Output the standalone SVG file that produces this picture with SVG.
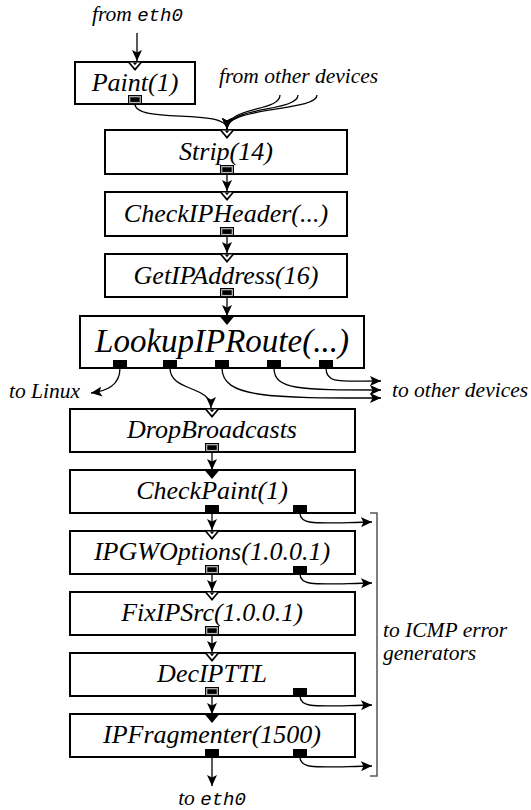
<svg xmlns="http://www.w3.org/2000/svg" xmlns:xlink="http://www.w3.org/1999/xlink" width="531" height="810" viewBox="0 0 531 810">
<style>
.box{fill:#fff;stroke:#000;stroke-width:2}
.lbl{font-family:"Liberation Serif",serif;font-style:italic;font-size:26px;fill:#000;text-anchor:middle}
.big{font-size:33px}
.note{font-family:"Liberation Serif",serif;font-style:italic;font-size:21.5px;fill:#000}
.mono{font-family:"Liberation Mono",monospace;font-style:italic;font-size:19px}
.conn{fill:none;stroke:#000;stroke-width:1.3}
.arr{marker-end:url(#ah)}
.brk{fill:none;stroke:#555;stroke-width:1.5}
</style>
<defs>
<marker id="ah" markerUnits="userSpaceOnUse" markerWidth="12" markerHeight="10" refX="11" refY="5" orient="auto">
<path d="M0,0 L11,5 L0,10 L2.5,5 Z" fill="#000"/>
</marker>
<g id="pin"><polygon points="-7.5,0 7.5,0 0,9" fill="#000"/></g>
<g id="ain"><polygon points="-7.5,0 7.5,0 0,9" fill="#000"/><polygon points="-5,0.5 5,0.5 0,6.2" fill="#fff"/><polygon points="-2.4,0.5 2.4,0.5 0,3.2" fill="#000"/></g>
<g id="pout"><rect x="-7" y="-8" width="14" height="8" fill="#000"/></g>
<g id="aout"><rect x="-7" y="-9" width="14" height="9" fill="#000"/><rect x="-5.3" y="-7.3" width="10.6" height="5.8" fill="none" stroke="#bbb" stroke-width="1.2"/></g>
</defs>

<g id="connectors">
<path class="conn arr" d="M137,33 V61"/>
<path class="conn arr" d="M135,104 C135,124 227,108 227,129"/>
<path class="conn arr" d="M280,95 C280,112 227,106 227,129"/>
<path class="conn arr" d="M298,95 C298,112 227,106 227,129"/>
<path class="conn arr" d="M317,95 C317,112 227,106 227,129"/>
<path class="conn arr" d="M227,174 V191"/>
<path class="conn arr" d="M227,236 V253"/>
<path class="conn arr" d="M227,297 V316"/>
<path class="conn arr" d="M120,368 C120,386 106,391 91,393"/>
<path class="conn arr" d="M170,368 C170,392 211,385 211,408"/>
<path class="conn arr" d="M222,368 C222,398 270,398 381,398"/>
<path class="conn arr" d="M274,368 C274,390 300,390 381,390"/>
<path class="conn arr" d="M326,368 C326,384 340,381 381,381"/>
<path class="conn arr" d="M212,452 V470"/>
<path class="conn arr" d="M212,513 V530"/>
<path class="conn arr" d="M212,574 V591"/>
<path class="conn arr" d="M212,635 V652"/>
<path class="conn arr" d="M212,696 V714"/>
<path class="conn arr" d="M212,757 V786"/>
<path class="conn arr" d="M300,513 C300,526 318,523 372,522"/>
<path class="conn arr" d="M300,574 C300,587 318,584 372,583"/>
<path class="conn arr" d="M300,696 C300,709 318,706 372,705"/>
<path class="conn arr" d="M300,757 C300,770 318,767 372,766"/>
<path class="brk" d="M370,513 H377 V776 H370"/>
</g>

<g id="texts">
<text class="note" x="92" y="21">from <tspan class="mono">eth0</tspan></text>
<text class="note" x="219" y="83">from other devices</text>
<text class="note" x="80" y="398" text-anchor="end">to Linux</text>
<text class="note" x="392" y="397">to other devices</text>
<text class="note" x="383" y="637">to ICMP error</text>
<text class="note" x="383" y="660">generators</text>
<text class="note" x="212" y="805" text-anchor="middle">to <tspan class="mono">eth0</tspan></text>
</g>

<g id="n-paint">
<rect class="box" x="75" y="62" width="120" height="42"/>
<text class="lbl" x="135" y="91">Paint(1)</text>
<use xlink:href="#ain" x="135" y="62"/><use xlink:href="#aout" x="135" y="104"/>
</g>
<g id="n-strip">
<rect class="box" x="105" y="130" width="242" height="44"/>
<text class="lbl" x="226" y="160">Strip(14)</text>
<use xlink:href="#ain" x="227" y="130"/><use xlink:href="#aout" x="227" y="174"/>
</g>
<g id="n-checkipheader">
<rect class="box" x="105" y="192" width="242" height="44"/>
<text class="lbl" x="226" y="222">CheckIPHeader(...)</text>
<use xlink:href="#ain" x="227" y="192"/><use xlink:href="#aout" x="227" y="236"/>
</g>
<g id="n-getipaddress">
<rect class="box" x="105" y="254" width="242" height="43"/>
<text class="lbl" x="226" y="284">GetIPAddress(16)</text>
<use xlink:href="#ain" x="227" y="254"/><use xlink:href="#aout" x="227" y="297"/>
</g>
<g id="n-lookupiproute">
<rect class="box" x="80" y="316" width="284" height="52"/>
<text class="lbl big" x="222" y="352">LookupIPRoute(...)</text>
<use xlink:href="#pin" x="227" y="316"/>
<use xlink:href="#pout" x="120" y="368"/><use xlink:href="#pout" x="170" y="368"/><use xlink:href="#pout" x="222" y="368"/><use xlink:href="#pout" x="274" y="368"/><use xlink:href="#pout" x="326" y="368"/>
</g>
<g id="n-dropbroadcasts">
<rect class="box" x="70" y="409" width="285" height="43"/>
<text class="lbl" x="212" y="438">DropBroadcasts</text>
<use xlink:href="#ain" x="212" y="409"/><use xlink:href="#aout" x="212" y="452"/>
</g>
<g id="n-checkpaint">
<rect class="box" x="70" y="470" width="285" height="43"/>
<text class="lbl" x="212" y="499">CheckPaint(1)</text>
<use xlink:href="#pin" x="212" y="470"/><use xlink:href="#pout" x="212" y="513"/><use xlink:href="#pout" x="300" y="513"/>
</g>
<g id="n-ipgwoptions">
<rect class="box" x="70" y="531" width="285" height="43"/>
<text class="lbl" x="212" y="560">IPGWOptions(1.0.0.1)</text>
<use xlink:href="#ain" x="212" y="531"/><use xlink:href="#aout" x="212" y="574"/><use xlink:href="#pout" x="300" y="574"/>
</g>
<g id="n-fixipsrc">
<rect class="box" x="70" y="592" width="285" height="43"/>
<text class="lbl" x="212" y="621">FixIPSrc(1.0.0.1)</text>
<use xlink:href="#ain" x="212" y="592"/><use xlink:href="#aout" x="212" y="635"/>
</g>
<g id="n-decipttl">
<rect class="box" x="70" y="653" width="285" height="43"/>
<text class="lbl" x="212" y="682">DecIPTTL</text>
<use xlink:href="#ain" x="212" y="653"/><use xlink:href="#aout" x="212" y="696"/><use xlink:href="#pout" x="300" y="696"/>
</g>
<g id="n-ipfragmenter">
<rect class="box" x="70" y="714" width="285" height="43"/>
<text class="lbl" x="212" y="743">IPFragmenter(1500)</text>
<use xlink:href="#pin" x="212" y="714"/><use xlink:href="#pout" x="212" y="757"/><use xlink:href="#pout" x="300" y="757"/>
</g>
</svg>
